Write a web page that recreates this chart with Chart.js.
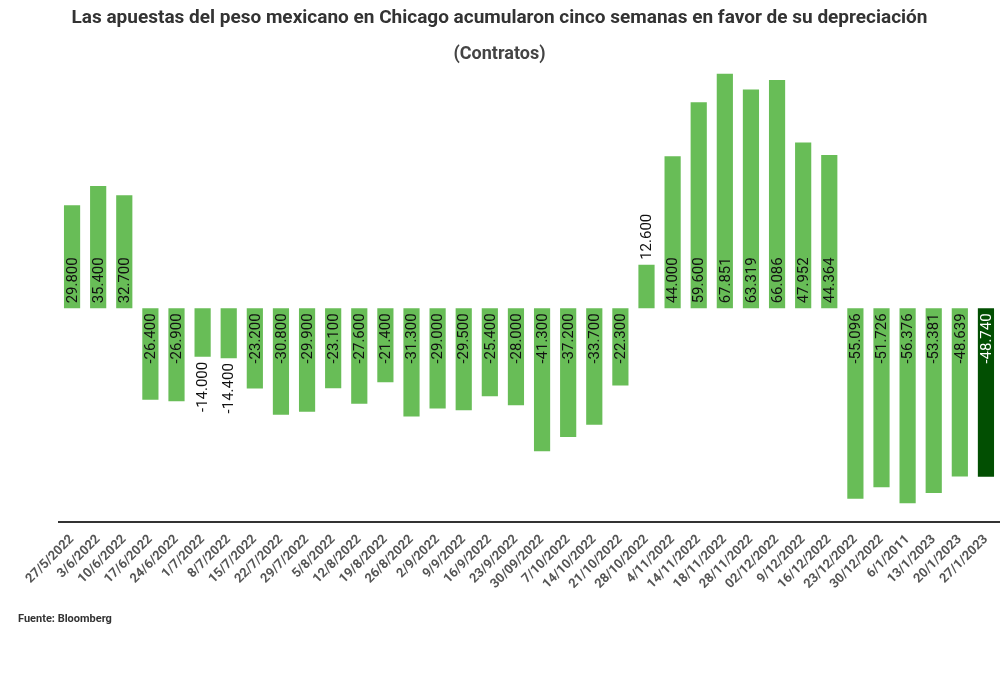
<!DOCTYPE html>
<html>
<head>
<meta charset="utf-8">
<script src="https://cdn.jsdelivr.net/npm/chart.js@4.4.0/dist/chart.umd.min.js"></script>
<style>
  body { margin: 0; background: #fff; font-family: Roboto, sans-serif; }
  #wrap { position: relative; width: 1000px; height: 699px; }
  #source { position: absolute; left: 18px; top: 612px; font: bold 11px Roboto, sans-serif; color: #333; }
</style>
</head>
<body>
<div id="wrap">
  <canvas id="chart" width="1000" height="699"></canvas>
  <div id="source">Fuente: Bloomberg</div>
</div>
<script>
const weeks = [
  "27/5/2022", "3/6/2022", "10/6/2022", "17/6/2022", "24/6/2022", "1/7/2022",
  "8/7/2022", "15/7/2022", "22/7/2022", "29/7/2022", "5/8/2022", "12/8/2022",
  "19/8/2022", "26/8/2022", "2/9/2022", "9/9/2022", "16/9/2022", "23/9/2022",
  "30/09/2022", "7/10/2022", "14/10/2022", "21/10/2022", "28/10/2022", "4/11/2022",
  "14/11/2022", "18/11/2022", "28/11/2022", "02/12/2022", "9/12/2022", "16/12/2022",
  "23/12/2022", "30/12/2022", "6/1/2011", "13/1/2023", "20/1/2023", "27/1/2023"
];

// miles de contratos netos
const contracts = [
  29.8, 35.4, 32.7, -26.4, -26.9, -14.0,
  -14.4, -23.2, -30.8, -29.9, -23.1, -27.6,
  -21.4, -31.3, -29.0, -29.5, -25.4, -28.0,
  -41.3, -37.2, -33.7, -22.3, 12.6, 44.0,
  59.6, 67.851, 63.319, 66.086, 47.952, 44.364,
  -55.096, -51.726, -56.376, -53.381, -48.639, -48.740
];

const GREEN = "#68bd57";
const DARK_GREEN = "#024f02";

const barColors = contracts.map((v, i) => i === contracts.length - 1 ? DARK_GREEN : GREEN);

// etiquetas verticales dentro (o fuera) de cada barra
const barLabels = {
  id: "barLabels",
  afterDatasetsDraw(chart) {
    const ctx = chart.ctx;
    const meta = chart.getDatasetMeta(0);
    ctx.save();
    ctx.font = "15px Roboto, sans-serif";
    ctx.textBaseline = "middle";
    meta.data.forEach((bar, i) => {
      const v = contracts[i];
      const text = v.toFixed(3);
      const w = ctx.measureText(text).width;
      const len = Math.abs(bar.base - bar.y);
      const pad = 5;
      const inside = w + pad * 2 <= len;
      let anchorY, align;
      if (v >= 0) {
        anchorY = inside ? bar.base - pad : bar.y - pad;
        align = "left";
      } else if (inside) {
        anchorY = bar.base + pad;
        align = "right";
      } else {
        anchorY = bar.y + pad + w;
        align = "left";
      }
      ctx.fillStyle = (i === contracts.length - 1 && inside) ? "#fff" : "#111";
      ctx.save();
      ctx.translate(bar.x + 1, anchorY);
      ctx.rotate(-Math.PI / 2);
      ctx.textAlign = align;
      ctx.fillText(text, 0, 0);
      ctx.restore();
    });
    ctx.restore();
  }
};

new Chart(document.getElementById("chart"), {
  type: "bar",
  data: {
    labels: weeks,
    datasets: [{
      data: contracts,
      backgroundColor: barColors,
      borderWidth: 0,
      categoryPercentage: 1,
      barPercentage: 0.62
    }]
  },
  options: {
    responsive: false,
    animation: false,
    layout: { padding: { left: 0, right: 1, top: 7, bottom: 0 } },
    plugins: {
      legend: { display: false },
      tooltip: { enabled: false },
      title: {
        display: true,
        text: "Las apuestas del peso mexicano en Chicago acumularon cinco semanas en favor de su depreciación",
        color: "#333",
        font: { family: "Roboto", size: 19, weight: "bold" },
        padding: { top: 0, bottom: 14 }
      },
      subtitle: {
        display: true,
        text: "(Contratos)",
        color: "#444",
        font: { family: "Roboto", size: 18, weight: "bold" },
        padding: { top: 0, bottom: 1 }
      }
    },
    scales: {
      x: {
        grid: { display: false },
        border: { display: true, color: "#333", width: 2 },
        ticks: {
          color: "#555",
          font: { family: "Roboto", size: 13, weight: "bold" },
          maxRotation: 45,
          minRotation: 45,
          padding: 2,
          autoSkip: false
        },
        afterFit(scale) { scale.height = 177; }
      },
      y: {
        min: -61.8,
        max: 70,
        grid: { display: false },
        border: { display: false },
        ticks: { display: false },
        afterFit(scale) { scale.width = 59; }
      }
    }
  },
  plugins: [barLabels]
});
</script>
</body>
</html>
